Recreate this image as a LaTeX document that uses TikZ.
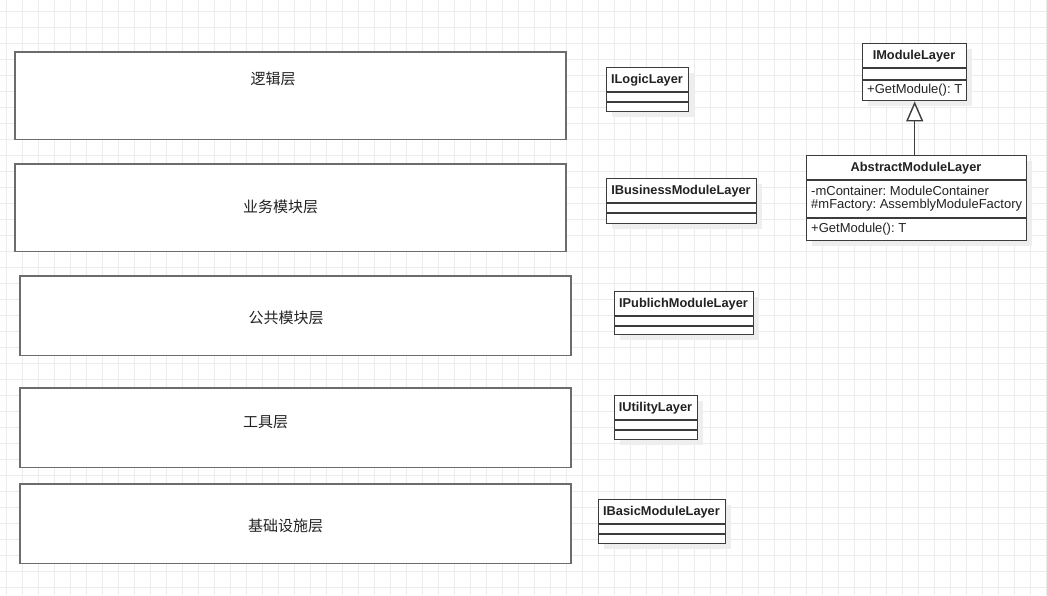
\documentclass[tikz,border=0pt]{standalone}
\usepackage{fontspec}
\setmainfont{Liberation Sans}
\newfontfamily\cjk{Noto Sans CJK SC}
\usetikzlibrary{arrows.meta}
\definecolor{gridc}{HTML}{ECECEC}
\definecolor{shadowc}{HTML}{EEEEEE}
\definecolor{layerc}{HTML}{6C6C6C}
\definecolor{umlc}{HTML}{3C3C3C}
\definecolor{txtc}{HTML}{222222}
\frenchspacing
\newcommand\umlcls[8]{%
  \fill[shadowc] (#2+6,#3+6) rectangle (#4+6,#5+6);
  \node[uml, minimum width={#4-#2}, minimum height={#5-#3}] (#1) at (#2,#3) {};
  \node[umltitle] (#1-t) at ({(#2+#4)/2},{(#3+#6)/2+1}) {#8};
  \draw[sepline] (#2,#6) -- (#4,#6);
  \draw[sepline] (#2,#7) -- (#4,#7);
}
\begin{document}
\begin{tikzpicture}[x=1pt,y=-1pt,
  layer/.style={draw=layerc, line width=1.8pt, fill=white, inner sep=0pt, anchor=north west},
  layertext/.style={font=\cjk\fontsize{15}{18}\selectfont, text=txtc, inner sep=0pt},
  uml/.style={draw=umlc, line width=1.4pt, fill=white, inner sep=0pt, anchor=north west},
  umltitle/.style={font=\bfseries\fontsize{12.8}{15}\selectfont, text=txtc, inner sep=0pt},
  umlitem/.style={font=\fontsize{13}{15}\selectfont, text=txtc, inner sep=0pt, anchor=west},
  sepline/.style={draw=umlc, line width=1.4pt}]
\useasboundingbox (0,0) rectangle (1047,595);
\fill[white] (0,0) rectangle (1047,595);
\foreach \i in {0,...,65} \draw[gridc, line width=1pt] (6.5+16*\i,0) -- (6.5+16*\i,595);
\foreach \j in {0,...,37} \draw[gridc, line width=1pt] (0,11.5+16*\j) -- (1047,11.5+16*\j);

% layer boxes
\node[layer, minimum width=551, minimum height=87.5] (L1) at (14,51) {};
\node[layertext] (L1t) at (273,79) {逻辑层};
\node[layer, minimum width=551, minimum height=87.5] (L2) at (14,163) {};
\node[layertext] (L2t) at (280.5,207) {业务模块层};
\node[layer, minimum width=551, minimum height=79.5] (L3) at (19,275) {};
\node[layertext] (L3t) at (286,318) {公共模块层};
\node[layer, minimum width=551, minimum height=79.5] (L4) at (19,387) {};
\node[layertext] (L4t) at (265.5,422.5) {工具层};
\node[layer, minimum width=551, minimum height=79.5] (L5) at (19,483) {};
\node[layertext] (L5t) at (285.5,526) {基础设施层};

% interface classes
\umlcls{ilogic}{606}{67}{688}{111}{92}{102}{ILogicLayer}
\umlcls{ibus}{606}{178}{756}{223}{203}{213}{IBusinessModuleLayer}
\umlcls{ipub}{614}{291}{753}{334}{316}{326}{IPublichModuleLayer}
\umlcls{iutil}{614}{395}{697}{439}{420}{430}{IUtilityLayer}
\umlcls{ibasic}{598}{499}{725}{543}{524}{534}{IBasicModuleLayer}

% IModuleLayer
\umlcls{imod}{862}{43}{966}{100}{68}{80}{IModuleLayer}
\node[umlitem] (imodm) at (867,90) {+GetModule(): T};

% AbstractModuleLayer
\umlcls{abs}{806}{155}{1026}{240}{180}{218}{AbstractModuleLayer}
\node[umlitem] (absa1) at (811,191) {-mContainer: ModuleContainer};
\node[umlitem] (absa2) at (811,205.5) {\#mFactory: AssemblyModuleFactory};
\node[umlitem] (absm) at (811,229) {+GetModule(): T};

% generalization
\draw[umlc, line width=1.4pt, -{Triangle[length=20pt, width=17pt, fill=white]}] (imod.south |- abs.north) -- (imod.south);
\end{tikzpicture}
\end{document}
